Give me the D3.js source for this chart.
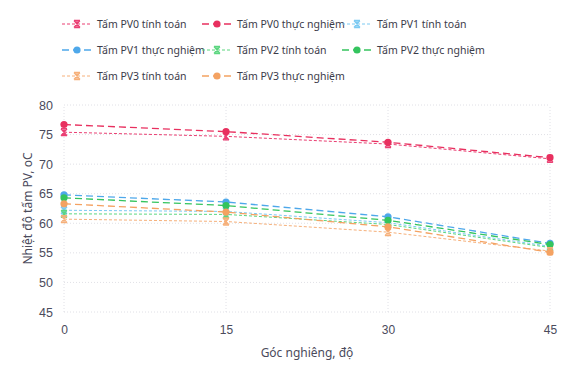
<!DOCTYPE html>
<html>
<head>
<meta charset="utf-8">
<script src="https://cdn.jsdelivr.net/npm/d3@7"></script>
<style>
  body { margin: 0; background: #fff; }
  svg { font-family: "Noto Sans", "DejaVu Sans", sans-serif; }
</style>
</head>
<body>
<svg></svg>
<script>
const angles = [0, 15, 30, 45];
const pv0Calc = [75.4, 74.7, 73.4, 70.9];
const pv0Exp = [76.7, 75.5, 73.7, 71.1];
const pv1Calc = [62.2, 62.0, 60.1, 56.1];
const pv1Exp = [64.8, 63.6, 61.1, 56.6];
const pv2Calc = [61.6, 61.5, 59.8, 55.9];
const pv2Exp = [64.3, 63.0, 60.5, 56.4];
const pv3Calc = [60.7, 60.3, 58.5, 55.3];
const pv3Exp = [63.3, 61.9, 59.4, 55.1];
const yTicks = [45, 50, 55, 60, 65, 70, 75, 80];

const series = [
  {name: 'Tấm PV0 tính toán', values: pv0Calc, color: '#ea3f73', kind: 'calc'},
  {name: 'Tấm PV0 thực nghiệm', values: pv0Exp, color: '#e8305f', kind: 'exp'},
  {name: 'Tấm PV1 tính toán', values: pv1Calc, color: '#7ccaf2', kind: 'calc'},
  {name: 'Tấm PV1 thực nghiệm', values: pv1Exp, color: '#4ea8ea', kind: 'exp'},
  {name: 'Tấm PV2 tính toán', values: pv2Calc, color: '#5bd67f', kind: 'calc'},
  {name: 'Tấm PV2 thực nghiệm', values: pv2Exp, color: '#34c45e', kind: 'exp'},
  {name: 'Tấm PV3 tính toán', values: pv3Calc, color: '#f6b07a', kind: 'calc'},
  {name: 'Tấm PV3 thực nghiệm', values: pv3Exp, color: '#f4a262', kind: 'exp'}
];

const W = 561, H = 380;
const margin = {top: 105, right: 11, bottom: 68, left: 64};
const svg = d3.select('svg').attr('width', W).attr('height', H);

const x = d3.scaleLinear().domain([0, 45]).range([margin.left, W - margin.right]);
const y = d3.scaleLinear().domain([45, 80]).range([H - margin.bottom, margin.top]);

// grid
svg.append('g').selectAll('line').data(yTicks)
  .enter().append('line')
  .attr('x1', x(0)).attr('x2', x(45))
  .attr('y1', d => y(d)).attr('y2', d => y(d))
  .attr('stroke', '#d8d8e0').attr('stroke-width', 0.8)
  .attr('stroke-dasharray', '1,2');
svg.append('g').selectAll('line').data(angles)
  .enter().append('line')
  .attr('x1', d => x(d)).attr('x2', d => x(d))
  .attr('y1', y(45)).attr('y2', y(80))
  .attr('stroke', '#d8d8e0').attr('stroke-width', 0.8)
  .attr('stroke-dasharray', '1,2');

// axes
const yAxis = svg.append('g')
  .attr('transform', `translate(${margin.left - 8},0)`)
  .call(d3.axisLeft(y).tickValues(yTicks).tickSize(0));
yAxis.select('.domain').remove();
yAxis.selectAll('text').attr('fill', '#4b4b5c').attr('font-size', 12.5);

const xAxis = svg.append('g')
  .attr('transform', `translate(0,${y(45) + 8})`)
  .call(d3.axisBottom(x).tickValues(angles).tickSize(0));
xAxis.select('.domain').remove();
xAxis.selectAll('text').attr('fill', '#4b4b5c').attr('font-size', 12).attr('dy', '0.9em');

svg.append('text')
  .attr('x', (x(0) + x(45)) / 2).attr('y', 357)
  .attr('text-anchor', 'middle').attr('fill', '#4b4b5c').attr('font-size', 12)
  .text('Góc nghiêng, độ');

svg.append('text')
  .attr('transform', `translate(32,${(y(45) + y(80)) / 2}) rotate(-90)`)
  .attr('text-anchor', 'middle').attr('fill', '#4b4b5c').attr('font-size', 12)
  .text('Nhiệt độ tấm PV, oC');

// lines
const line = d3.line().x((d, i) => x(angles[i])).y(d => y(d));
const xMark = 'M-3,-3.5L3,-3.5M-3,3.5L3,3.5M-3,-3.5L3,3.5M3,-3.5L-3,3.5M0,-3.5L0,3.5';

function drawMarker(g, kind, color) {
  if (kind === 'calc') {
    g.append('path').attr('d', xMark).attr('fill', 'none')
      .attr('stroke', color).attr('stroke-width', 1.3);
  } else {
    g.append('circle').attr('r', 3.6).attr('fill', color);
  }
}

series.forEach(s => {
  svg.append('path').datum(s.values)
    .attr('d', line).attr('fill', 'none')
    .attr('stroke', s.color)
    .attr('stroke-width', s.kind === 'calc' ? 1 : 1.3)
    .attr('stroke-dasharray', s.kind === 'calc' ? '3,2' : '7,4');
  s.values.forEach((v, i) => {
    const g = svg.append('g').attr('transform', `translate(${x(angles[i])},${y(v)})`);
    drawMarker(g, s.kind, s.color);
  });
});

// legend
const legend = svg.append('g');
series.forEach((s, i) => {
  const col = i % 3, row = Math.floor(i / 3);
  const g = legend.append('g').attr('transform', `translate(${62 + col * 140},${24 + row * 26})`);
  g.append('line').attr('x1', 0).attr('x2', 30).attr('y1', 0).attr('y2', 0)
    .attr('stroke', s.color).attr('stroke-width', s.kind === 'calc' ? 1 : 1.3)
    .attr('stroke-dasharray', s.kind === 'calc' ? '3,2' : '7,4');
  drawMarker(g.append('g').attr('transform', 'translate(15,0)'), s.kind, s.color);
  g.append('text').attr('x', 35).attr('y', 0).attr('dy', '0.35em')
    .attr('font-size', 10.5).attr('fill', '#3c3c4a').text(s.name);
});
</script>
</body>
</html>
